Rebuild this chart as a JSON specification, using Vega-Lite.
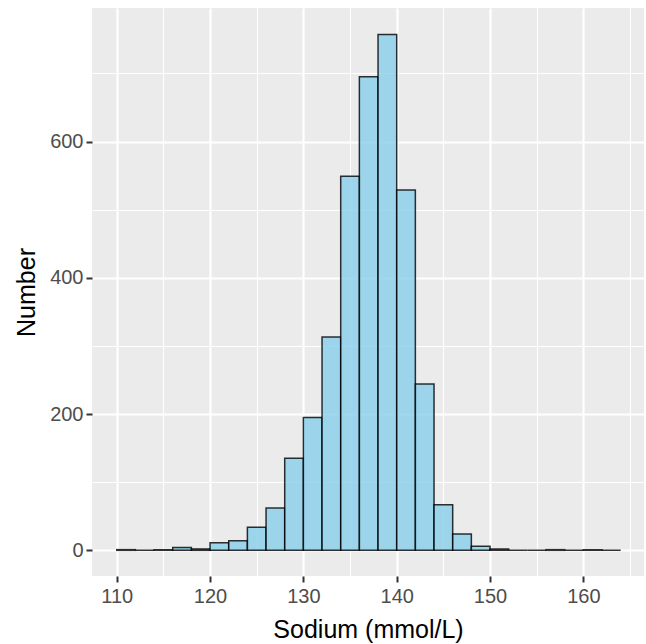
{
  "$schema": "https://vega.github.io/schema/vega-lite/v6.json",
  "width": 552,
  "height": 568,
  "autosize": {"type": "none"},
  "padding": {"left": 92, "top": 8, "right": 2, "bottom": 68},
  "config": {
    "font": "Liberation Sans",
    "view": {"fill": "#EBEBEB", "stroke": null}
  },
  "data": {
    "values": [
      {"start": 110, "end": 112, "count": 1},
      {"start": 112, "end": 114, "count": 0},
      {"start": 114, "end": 116, "count": 1},
      {"start": 116, "end": 118, "count": 4},
      {"start": 118, "end": 120, "count": 2},
      {"start": 120, "end": 122, "count": 11},
      {"start": 122, "end": 124, "count": 14},
      {"start": 124, "end": 126, "count": 34},
      {"start": 126, "end": 128, "count": 62},
      {"start": 128, "end": 130, "count": 135},
      {"start": 130, "end": 132, "count": 195},
      {"start": 132, "end": 134, "count": 313},
      {"start": 134, "end": 136, "count": 549},
      {"start": 136, "end": 138, "count": 695},
      {"start": 138, "end": 140, "count": 757},
      {"start": 140, "end": 142, "count": 529},
      {"start": 142, "end": 144, "count": 244},
      {"start": 144, "end": 146, "count": 67},
      {"start": 146, "end": 148, "count": 24},
      {"start": 148, "end": 150, "count": 6},
      {"start": 150, "end": 152, "count": 2},
      {"start": 152, "end": 154, "count": 0},
      {"start": 154, "end": 156, "count": 0},
      {"start": 156, "end": 158, "count": 1},
      {"start": 158, "end": 160, "count": 0},
      {"start": 160, "end": 162, "count": 1},
      {"start": 162, "end": 164, "count": 0}
    ]
  },
  "layer": [
    {
      "mark": {"type": "bar", "opacity": 0},
      "encoding": {
        "x": {
          "field": "start", "type": "quantitative",
          "scale": {"domain": [107.35, 166.5], "nice": false, "zero": false},
          "axis": {
            "orient": "bottom",
            "values": [105, 115, 125, 135, 145, 155, 165],
            "grid": true, "gridColor": "#FFFFFF", "gridWidth": 1.1,
            "domain": false, "ticks": false, "labels": false, "title": null
          }
        },
        "x2": {"field": "end"},
        "y": {
          "field": "count", "type": "quantitative",
          "scale": {"domain": [-37.7, 796], "nice": false, "zero": false},
          "axis": {
            "orient": "left",
            "values": [100, 300, 500, 700],
            "grid": true, "gridColor": "#FFFFFF", "gridWidth": 1.1,
            "domain": false, "ticks": false, "labels": false, "title": null
          }
        },
        "y2": {"datum": 0}
      }
    },
    {
      "mark": {"type": "bar", "fill": "#87CEEB", "fillOpacity": 0.8, "stroke": "#000000", "strokeOpacity": 0.8, "strokeWidth": 1.5},
      "encoding": {
        "x": {
          "field": "start", "type": "quantitative",
          "scale": {"domain": [107.35, 166.5], "nice": false, "zero": false},
          "axis": {
            "orient": "bottom",
            "values": [110, 120, 130, 140, 150, 160],
            "grid": true, "gridColor": "#FFFFFF", "gridWidth": 2.2,
            "domain": false,
            "ticks": true, "tickColor": "#333333", "tickWidth": 2, "tickSize": 6,
            "labelFontSize": 20, "labelColor": "#4D4D4D", "labelPadding": 4,
            "title": "Sodium (mmol/L)", "titleFontSize": 25, "titleFontWeight": "normal",
            "titleColor": "#000000", "titlePadding": 11
          }
        },
        "x2": {"field": "end"},
        "y": {
          "field": "count", "type": "quantitative",
          "scale": {"domain": [-37.7, 796], "nice": false, "zero": false},
          "axis": {
            "orient": "left",
            "values": [0, 200, 400, 600],
            "grid": true, "gridColor": "#FFFFFF", "gridWidth": 2.2,
            "domain": false,
            "ticks": true, "tickColor": "#333333", "tickWidth": 2, "tickSize": 6,
            "labelFontSize": 20, "labelColor": "#4D4D4D", "labelPadding": 3,
            "title": "Number", "titleFontSize": 25, "titleFontWeight": "normal",
            "titleColor": "#000000", "titlePadding": 10
          }
        },
        "y2": {"datum": 0}
      }
    }
  ],
  "resolve": {"axis": {"x": "independent", "y": "independent"}}
}
